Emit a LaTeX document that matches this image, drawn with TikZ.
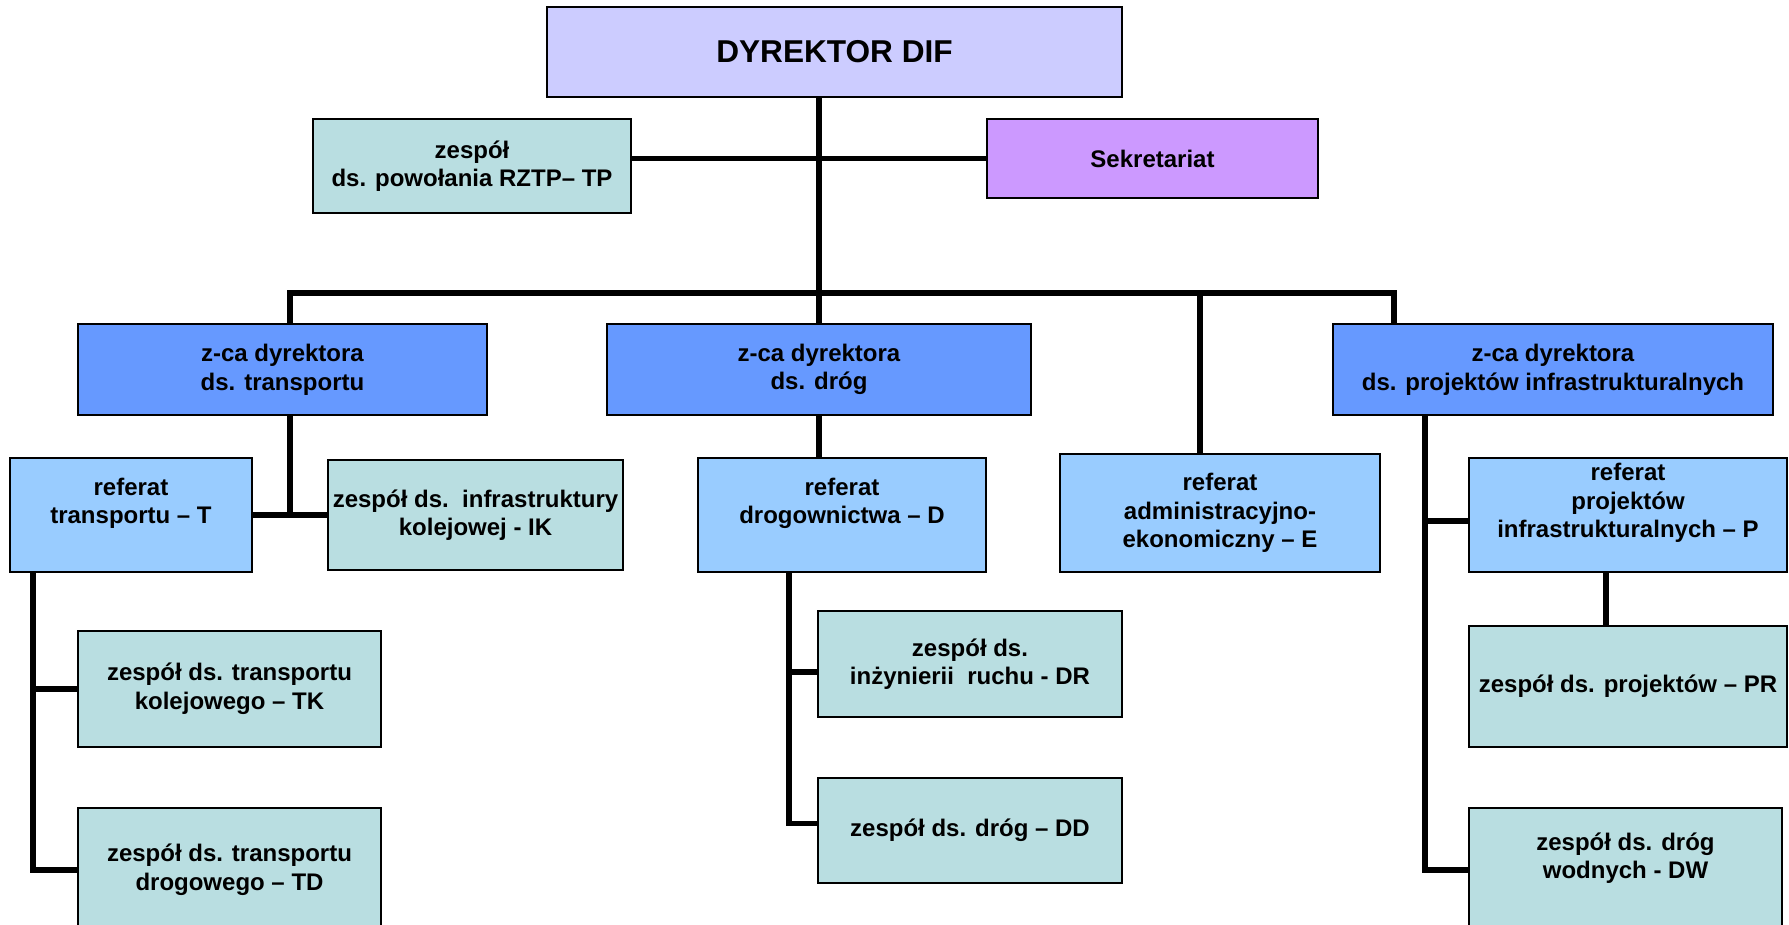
\documentclass[tikz,border=0pt]{standalone}
\usepackage{fontspec}
\setmainfont{Liberation Sans}
\usetikzlibrary{calc}
\definecolor{cDir}{RGB}{204,204,255}
\definecolor{cSek}{RGB}{204,153,255}
\definecolor{cZca}{RGB}{102,153,255}
\definecolor{cRef}{RGB}{153,204,255}
\definecolor{cZes}{RGB}{185,222,225}
\newcommand\orgbox[7]{\node[#1, minimum width={(#5-#3)*0.5pt}, minimum height={(#6-#4)*0.5pt}] (#2) at ({(#3+#5)/2},{(#4+#6)/2}) {#7};}
\begin{document}
\begin{tikzpicture}[x=0.5pt,y=-0.5pt,
  box/.style={draw=black, line width=1pt, rectangle, inner sep=0pt, align=center,
    font=\bfseries\fontsize{12}{14.3}\selectfont},
  dirbox/.style={box, fill=cDir, font=\bfseries\fontsize{15.8}{19}\selectfont},
  sekbox/.style={box, fill=cSek},
  zcabox/.style={box, fill=cZca},
  refbox/.style={box, fill=cRef},
  zesbox/.style={box, fill=cZes},
  conn/.style={line width=2.7pt, line join=miter}]
\useasboundingbox (0,0) rectangle (1789,925);
\clip (0,0) rectangle (1789,925);
% boxes
\orgbox{dirbox}{DIR}{547}{7}{1122}{97}{DYREKTOR DIF}
\orgbox{zesbox}{TP}{313}{119}{631}{213}{zespół\\ds. powołania RZTP– TP}
\orgbox{sekbox}{SEK}{987}{119}{1318}{198}{Sekretariat}
\orgbox{zcabox}{ZT}{78}{324}{487}{415}{z-ca dyrektora\\ds. transportu}
\orgbox{zcabox}{ZD}{607}{324}{1031}{415}{z-ca dyrektora\\ds. dróg}
\orgbox{zcabox}{ZP}{1333}{324}{1773}{415}{z-ca dyrektora\\ds. projektów infrastrukturalnych}
\orgbox{refbox}{RT}{10}{458}{252}{572}{referat\\transportu – T\\\mbox{}}
\orgbox{zesbox}{IK}{328}{460}{623}{570}{zespół ds.\ \ infrastruktury\\kolejowej - IK}
\orgbox{refbox}{RD}{698}{458}{986}{572}{referat\\drogownictwa – D\\\mbox{}}
\orgbox{refbox}{RE}{1060}{454}{1380}{572}{referat\\administracyjno-\\ekonomiczny – E}
\orgbox{refbox}{RP}{1469}{458}{1787}{572}{referat\\projektów\\infrastrukturalnych – P\\\mbox{}}
\orgbox{zesbox}{TK}{78}{631}{381}{747}{zespół ds. transportu\\kolejowego – TK}
\orgbox{zesbox}{TD}{78}{808}{381}{932}{zespół ds. transportu\\drogowego – TD}
\orgbox{zesbox}{DR}{818}{611}{1122}{717}{zespół ds.\\inżynierii\ \ ruchu - DR}
\orgbox{zesbox}{DD}{818}{778}{1122}{883}{zespół ds. dróg – DD}
\orgbox{zesbox}{PR}{1469}{626}{1787}{747}{zespół ds. projektów – PR}
\orgbox{zesbox}{DW}{1469}{808}{1782}{932}{zespół ds. dróg\\wodnych - DW\\\mbox{}}
% helper coordinates
\coordinate (bL) at (290,293);
\coordinate (bR) at (1394,293);
\coordinate (bE) at (1200,293);
\coordinate (tX) at (33,572);
\coordinate (dX) at (789,572);
\coordinate (pX) at (1425,415);
\coordinate (prX) at (1606,572);
\coordinate (drB) at ($(DR.west)+(0,8)$);
\coordinate (ddB) at ($(DD.west)+(0,-7)$);
\coordinate (rpB) at ($(RP.west)+(0,6)$);
% connectors
\draw[conn] (ZD.north |- DIR.south) -- (ZD.north);
\draw[conn] (TP.east |- SEK.west) -- (SEK.west);
\draw[conn] (ZT.north -| bL) -- (bL) -- (bR) -- (ZP.north -| bR);
\draw[conn] (bE) -- (bE |- RE.north);
\draw[conn] (ZT.south -| bL) -- (bL |- RT.east);
\draw[conn] (RT.east) -- (IK.west);
\draw[conn] (ZD.south) -- (ZD.south |- RD.north);
\draw[conn] (tX |- RT.south) |- (TD.west);
\draw[conn] (tX |- TK.west) -- (TK.west);
\draw[conn] (dX |- RD.south) |- (ddB);
\draw[conn] (drB -| dX) -- (drB);
\draw[conn] (pX |- ZP.south) |- (DW.west);
\draw[conn] (pX |- rpB) -- (rpB);
\draw[conn] (prX |- RP.south) -- (prX |- PR.north);
\end{tikzpicture}
\end{document}
